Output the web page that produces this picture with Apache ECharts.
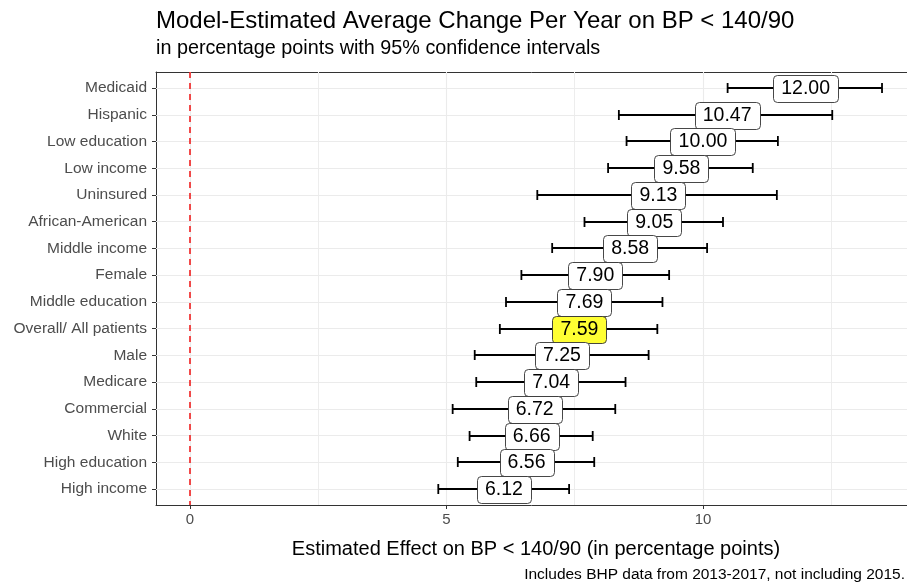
<!DOCTYPE html>
<html>
<head>
<meta charset="utf-8">
<script src="https://cdn.jsdelivr.net/npm/echarts@6/dist/echarts.min.js"></script>
<style>html,body{margin:0;padding:0;background:#fff}#c{width:907px;height:584px}</style>
</head>
<body>
<div id="c"></div>
<script>
// Categories, top to bottom
const categories = ['Medicaid','Hispanic','Low education','Low income','Uninsured','African-American','Middle income','Female','Middle education','Overall/ All patients','Male','Medicare','Commercial','White','High education','High income'];
const estimates = [12.00,10.47,10.00,9.58,9.13,9.05,8.58,7.90,7.69,7.59,7.25,7.04,6.72,6.66,6.56,6.12];
const lower = [10.48,8.36,8.51,8.15,6.77,7.69,7.06,6.46,6.16,6.04,5.55,5.58,5.12,5.45,5.22,4.84];
const upper = [13.49,12.52,11.46,10.97,11.44,10.39,10.08,9.34,9.21,9.11,8.94,8.49,8.29,7.85,7.88,7.39];
const highlightCategory = 'Overall/ All patients';
const xTickValues = [0,5,10];
const majorBreaks = [0,5,10];
const minorBreaks = [2.5,7.5,12.5];
const referenceValue = 0;

const FONT = 'Liberation Sans, Arial, Helvetica, sans-serif';
const LABEL_FONT = '19.5px ' + FONT;
const chart = echarts.init(document.getElementById('c'), null, {renderer:'canvas'});
const catIdx = categories.map((c,i)=>i);

const measureCtx = document.createElement('canvas').getContext('2d');
measureCtx.font = LABEL_FONT;

const rowData = categories.map((c,i)=>[i, lower[i], upper[i], estimates[i], c === highlightCategory ? 1 : 0]);

const gridLine = (vals, key, color, width) => vals.map(v => ({[key]: v, lineStyle:{color, width, type:'solid'}}));
const border = {show:true, onZero:false, lineStyle:{color:'#333', width:1}};

chart.setOption({
  animation:false,
  backgroundColor:'#fff',
  title:[
    {text:'Model-Estimated Average Change Per Year on BP < 140/90', left:156, top:9, padding:0,
     textStyle:{fontFamily:FONT, fontSize:24, fontWeight:'normal', color:'#000'}},
    {text:'in percentage points with 95% confidence intervals', left:156, top:39, padding:0,
     textStyle:{fontFamily:FONT, fontSize:19.8, fontWeight:'normal', color:'#000'}},
    {text:'Includes BHP data from 2013-2017, not including 2015.', right:2, bottom:1, padding:0,
     textStyle:{fontFamily:FONT, fontSize:15.5, fontWeight:'normal', color:'#000'}}
  ],
  grid:{left:156, top:72, right:0, height:433, show:true, borderWidth:0, backgroundColor:'#fff', containLabel:false},
  xAxis:[{type:'value', min:-0.663, max:13.977,
    name:'Estimated Effect on BP < 140/90 (in percentage points)', nameLocation:'middle', nameGap:34,
    nameTextStyle:{fontFamily:FONT, fontSize:20, color:'#000', padding:[0,0,0,9]},
    axisLine:border,
    axisTick:{show:true, length:4, lineStyle:{color:'#333', width:1}, customValues:xTickValues},
    axisLabel:{customValues:xTickValues, fontFamily:FONT, fontSize:15, color:'#4d4d4d', margin:7},
    splitLine:{show:false}},
   {type:'value', position:'top', min:-0.663, max:13.977,
    axisLine:border, axisTick:{show:false}, axisLabel:{show:false}, splitLine:{show:false}}],
  yAxis:{type:'value', inverse:true, min:-0.6, max:categories.length - 0.4,
    axisLine:border,
    axisTick:{show:true, length:4, lineStyle:{color:'#333', width:1}, customValues:catIdx},
    axisLabel:{customValues:catIdx, formatter:v=>categories[v], fontFamily:FONT, fontSize:15.5, color:'#4d4d4d', margin:9},
    splitLine:{show:false}},
  series:[
    {type:'line', data:[], silent:true, z:1,
     markLine:{z:1, silent:true, symbol:['none','none'], label:{show:false}, animation:false,
       emphasis:{disabled:true},
       data:[].concat(
         gridLine(minorBreaks,'xAxis','#EDEDED',1),
         gridLine(majorBreaks,'xAxis','#EBEBEB',1.1),
         gridLine(catIdx,'yAxis','#EBEBEB',1.1)
       )}},
    {type:'line', data:[], silent:true, z:2,
     markLine:{z:2, silent:true, symbol:['none','none'], label:{show:false}, animation:false,
       emphasis:{disabled:true},
       data:[{xAxis:referenceValue, lineStyle:{color:'#F01E1E', width:1.6, type:[6,5]}}]}},
    {type:'custom', z:3, silent:true, data:rowData,
     renderItem:(params, api)=>{
       const y = api.value(0), lo = api.value(1), hi = api.value(2), est = api.value(3), hl = api.value(4);
       const a = api.coord([lo, y]), b = api.coord([hi, y]), c = api.coord([est, y]);
       const yy = Math.round(a[1]);
       const st = {stroke:'#000', lineWidth:1.8};
       const h = 5;
       const txt = est.toFixed(2);
       const tw = measureCtx.measureText(txt).width;
       const bw = Math.round(tw + 16), bh = 27;
       const bx = Math.round(c[0] - bw/2) + 0.5, by = yy - 13 + 0.5;
       return {type:'group', children:[
         {type:'line', z2:1, shape:{x1:a[0], y1:yy, x2:b[0], y2:yy}, style:st},
         {type:'line', z2:1, shape:{x1:a[0], y1:yy-h, x2:a[0], y2:yy+h}, style:st},
         {type:'line', z2:1, shape:{x1:b[0], y1:yy-h, x2:b[0], y2:yy+h}, style:st},
         {type:'rect', z2:5, shape:{x:bx, y:by, width:bw, height:bh, r:4},
          style:{fill: hl ? '#FFFF33' : '#fff', stroke:'#333', lineWidth:0.9}},
         {type:'text', z2:6, x:c[0], y:yy + 1,
          style:{text:txt, align:'center', verticalAlign:'middle', font:LABEL_FONT, fill:'#000'}}
       ]};
     }}
  ]
});
</script>
</body>
</html>
